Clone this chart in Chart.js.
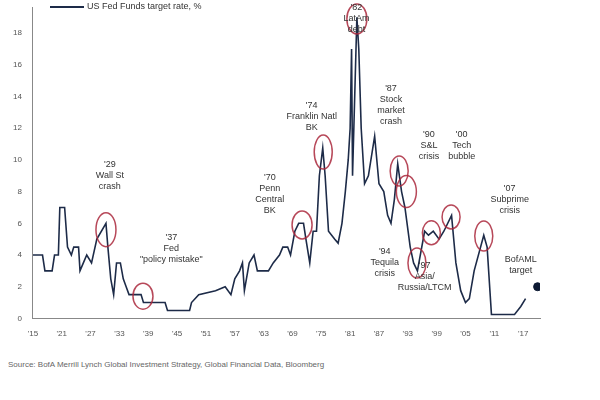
<!DOCTYPE html>
<html><head><meta charset="utf-8">
<script src="https://cdn.jsdelivr.net/npm/chart.js@4"></script>
<style>
body{margin:0;background:#fff;font-family:"Liberation Sans",Arial,sans-serif;}
#wrap{position:absolute;left:0;top:0;width:600px;height:342px;}
#legend{position:absolute;left:50px;top:1px;font-size:9px;color:#333;}
#legend span{display:inline-block;width:34px;height:2px;background:#1d2b48;vertical-align:middle;margin-right:3px;}
#src{position:absolute;left:8px;top:360px;font-size:8px;color:#666;}
</style></head><body>
<div id="wrap"><canvas id="c" width="600" height="342"></canvas></div>
<div id="legend"><span></span>US Fed Funds target rate, %</div>
<div id="src">Source: BofA Merrill Lynch Global Investment Strategy, Global Financial Data, Bloomberg</div>
<script>
const years=[1915,1917,1917.5,1919,1919.5,1920.3,1920.6,1921.6,1922.2,1923,1923.5,1924.5,1924.8,1925.5,1926.2,1927.2,1928.3,1930.2,1930.6,1931.2,1931.8,1932.4,1933.2,1933.8,1934.4,1935,1937.5,1938,1942.5,1943,1947.6,1948,1949.5,1953,1955,1956.2,1957,1958,1958.6,1959,1960,1961,1961.7,1964,1965,1966.3,1967,1968,1968.6,1969.5,1970.3,1971.3,1971.8,1972.6,1973.3,1974,1974.6,1975.3,
 1975.8,1976.5,1977.8,1978.5,1979.3,1980,1980.6,1981,1981.3,1981.5,1982.4,1982.8,1983.3,1984,1984.8,1986.1,1987,1988,1988.8,1989.5,1990.2,1990.9,1991.7,1992.4,1993.5,1994.2,1995,1996.5,1997.3,1998.3,1999.5,2000.5,
 2002.1,2003,2004,2005,2005.8,2006.8,2008.8,2009.5,2010.4,2015.2,2016.5,2017.5];
const rates=[4,4,3,3,4,4,7,7,4.5,4,4.5,4.5,3,3.5,4,3.5,5,6,4.5,2.5,1.5,3.5,3.5,2.5,2,1.5,1.5,1,1,0.5,0.5,1,1.5,1.75,2,1.5,2.5,3,3.5,1.75,3.5,4,3,3,3.5,4,4.5,4.5,4,5.5,6,6,5,3.5,5.5,5.5,9,10.75,
 9,5.5,5,4.75,6,8,10,12,17,9,19,17,12,8.5,9,11.5,8.5,8,6.5,6,7.5,9.75,8,7,4.5,3.5,3,5.5,5.25,5.5,5,5.5,
 6.5,3.5,1.75,1,1.25,3,5.25,4.5,0.25,0.25,0.75,1.25];
const target=[{x:2020,y:2}];
const tickYears=[1915,1921,1927,1933,1939,1945,1951,1957,1963,1969,1975,1981,1987,1993,1999,2005,2011,2017];
const notes=[
 {t:["'29","Wall St","crash"],x:1931,y:10},
 {t:["'37","Fed","\"policy mistake\""],x:1943.8,y:5.4},
 {t:["'70","Penn","Central","BK"],x:1964.3,y:9.2},
 {t:["'74","Franklin Natl","BK"],x:1973,y:13.7},
 {t:["'82","LatAm","debt"],x:1982.3,y:19.9},
 {t:["'87","Stock","market","crash"],x:1989.5,y:14.8},
 {t:["'90","S&L","crisis"],x:1997.4,y:11.9},
 {t:["'00","Tech","bubble"],x:2004.2,y:11.9},
 {t:["'07","Subprime","crisis"],x:2014.2,y:8.5},
 {t:["'94","Tequila","crisis"],x:1988.2,y:4.5},
 {t:["'97","Asia/","Russia/LTCM"],x:1996.5,y:3.6},
 {t:["BofAML","target"],x:2016.5,y:4.0}
];
const circles=[[1930.2,5.6,10,17],[1937.9,1.4,10,13],[1971,5.9,10,14],[1975.4,10.5,9,17],[1982.4,18.9,10,15],[1991.2,9.3,9,15],[1992.7,8,10,16],[1994.9,3.5,9,15],[1997.9,5.4,9,12],[2002,6.4,9,12],[2008.8,5.2,9,15]];
const deco={id:'deco',afterDatasetsDraw(ch){
 const c=ch.ctx,xs=ch.scales.x,ys=ch.scales.y;
 c.save();
 c.strokeStyle='rgba(170,40,60,0.85)';c.lineWidth=1.5;
 circles.forEach(e=>{c.beginPath();c.ellipse(xs.getPixelForValue(e[0]),ys.getPixelForValue(e[1]),e[2],e[3],0,0,Math.PI*2);c.stroke();});
 c.fillStyle='#333';c.font='9px "Liberation Sans", Arial';c.textAlign='center';c.textBaseline='top';
 notes.forEach(n=>{const px=xs.getPixelForValue(n.x);let py=ys.getPixelForValue(n.y);n.t.forEach((l,i)=>c.fillText(l,px,py+i*11));});
 c.restore();}};
new Chart(document.getElementById('c'),{
 type:'line',
 data:{datasets:[
  {data:years.map((x,i)=>({x,y:rates[i]})),borderColor:'#1d2b48',borderWidth:1.6,pointRadius:0,tension:0},
  {data:target,showLine:false,pointRadius:4,pointBackgroundColor:'#0d1a33',pointBorderColor:'#0d1a33'}]},
 options:{responsive:false,animation:false,
  layout:{padding:{left:10,right:60,top:0,bottom:0}},
  plugins:{legend:{display:false},tooltip:{enabled:false}},
  scales:{
   x:{type:'linear',min:1915,max:2020.5,grid:{display:false,drawTicks:true},border:{color:'#888'},
      afterBuildTicks(s){s.ticks=tickYears.map(v=>({value:v}));},
      ticks:{color:'#555',font:{size:8},callback:v=>"'"+String(v).slice(2),maxRotation:0,autoSkip:false}},
   y:{min:0,max:19.6,grid:{display:false},border:{color:'#888'},
      afterBuildTicks(s){s.ticks=[0,2,4,6,8,10,12,14,16,18].map(v=>({value:v}));},
      ticks:{color:'#555',font:{size:8}}}}},
 plugins:[deco]});
</script></body></html>
